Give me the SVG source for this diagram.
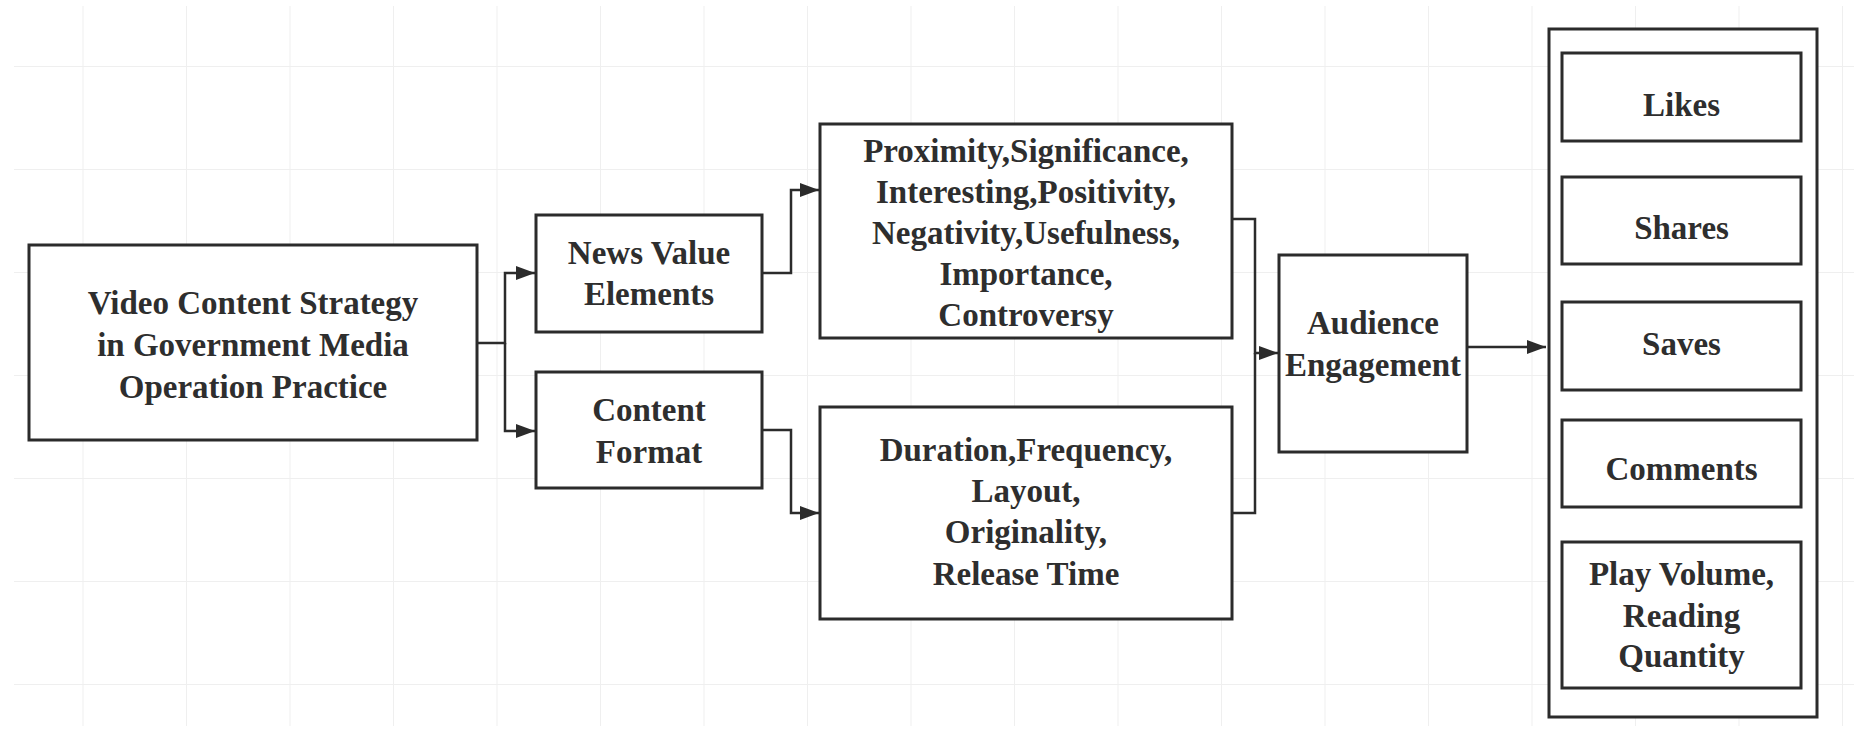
<svg xmlns="http://www.w3.org/2000/svg" width="1869" height="736" viewBox="0 0 1869 736">
<defs>
<style>
.box{fill:#ffffff;stroke:#2b2b2b;stroke-width:3}
.lbl{font-family:"Liberation Serif","Times New Roman",serif;font-weight:bold;font-size:33px;fill:#2e2e2e;text-anchor:middle}
.con{fill:none;stroke:#2b2b2b;stroke-width:2.5}
.grid{stroke:#efefef;stroke-width:2}
</style>
<marker id="arr" markerUnits="userSpaceOnUse" markerWidth="20" markerHeight="14" refX="19" refY="7" orient="auto">
<path d="M0,0 L19,7 L0,14 z" fill="#2b2b2b"/>
</marker>
<pattern id="gridp" x="-20" y="-36" width="103.5" height="103" patternUnits="userSpaceOnUse">
<path d="M103.5,0 V103 M0,103 H103.5" class="grid"/>
</pattern>
</defs>
<rect x="0" y="0" width="1869" height="736" fill="#ffffff"/>
<rect x="14" y="6" width="1840" height="720" fill="url(#gridp)"/>

<g id="connectors">
<path class="con" d="M477,343 H505 V273 H535" marker-end="url(#arr)"/>
<path class="con" d="M505,343 V431 H535" marker-end="url(#arr)"/>
<path class="con" d="M762,273 H791 V190 H819" marker-end="url(#arr)"/>
<path class="con" d="M762,430 H791 V513 H819" marker-end="url(#arr)"/>
<path class="con" d="M1232,219 H1255 V353 H1278" marker-end="url(#arr)"/>
<path class="con" d="M1232,513 H1255 V353"/>
<path class="con" d="M1467,347 H1546" marker-end="url(#arr)"/>
</g>

<g id="strategy">
<rect class="box" x="29" y="245" width="448" height="195"/>
<text class="lbl" x="253" y="314">Video Content Strategy</text>
<text class="lbl" x="253" y="356">in Government Media</text>
<text class="lbl" x="253" y="398">Operation Practice</text>
</g>

<g id="news-value">
<rect class="box" x="536" y="215" width="226" height="117"/>
<text class="lbl" x="649" y="264">News Value</text>
<text class="lbl" x="649" y="305">Elements</text>
</g>

<g id="content-format">
<rect class="box" x="536" y="372" width="226" height="116"/>
<text class="lbl" x="649" y="421">Content</text>
<text class="lbl" x="649" y="463">Format</text>
</g>

<g id="news-items">
<rect class="box" x="820" y="124" width="412" height="214"/>
<text class="lbl" x="1026" y="162">Proximity,Significance,</text>
<text class="lbl" x="1026" y="203">Interesting,Positivity,</text>
<text class="lbl" x="1026" y="244">Negativity,Usefulness,</text>
<text class="lbl" x="1026" y="285">Importance,</text>
<text class="lbl" x="1026" y="326">Controversy</text>
</g>

<g id="format-items">
<rect class="box" x="820" y="407" width="412" height="212"/>
<text class="lbl" x="1026" y="461">Duration,Frequency,</text>
<text class="lbl" x="1026" y="502">Layout,</text>
<text class="lbl" x="1026" y="543">Originality,</text>
<text class="lbl" x="1026" y="585">Release Time</text>
</g>

<g id="audience">
<rect class="box" x="1279" y="255" width="188" height="197"/>
<text class="lbl" x="1373" y="334">Audience</text>
<text class="lbl" x="1373" y="376">Engagement</text>
</g>

<g id="metrics">
<rect class="box" x="1549" y="29" width="268" height="688"/>
</g>
<g id="likes">
<rect class="box" x="1562" y="53" width="239" height="88"/>
<text class="lbl" x="1681.5" y="116">Likes</text>
</g>
<g id="shares">
<rect class="box" x="1562" y="177" width="239" height="87"/>
<text class="lbl" x="1681.5" y="239">Shares</text>
</g>
<g id="saves">
<rect class="box" x="1562" y="302" width="239" height="88"/>
<text class="lbl" x="1681.5" y="355">Saves</text>
</g>
<g id="comments">
<rect class="box" x="1562" y="420" width="239" height="87"/>
<text class="lbl" x="1681.5" y="480">Comments</text>
</g>
<g id="play-volume">
<rect class="box" x="1562" y="542" width="239" height="146"/>
<text class="lbl" x="1681.5" y="585">Play Volume,</text>
<text class="lbl" x="1681.5" y="627">Reading</text>
<text class="lbl" x="1681.5" y="667">Quantity</text>
</g>
</svg>
